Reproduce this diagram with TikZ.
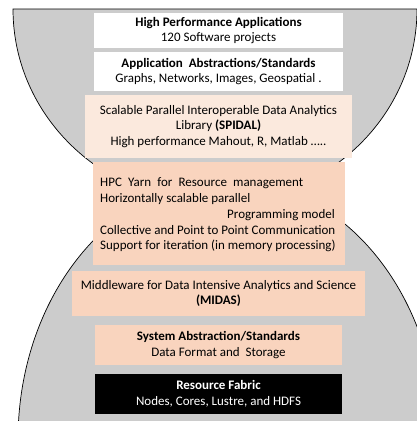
\documentclass[tikz,border=0pt]{standalone}
\usepackage{fontspec}
\setmainfont{Carlito}
\definecolor{bggray}{HTML}{CCCCCC}
\definecolor{peach}{HTML}{F9D4BE}
\definecolor{lightpeach}{HTML}{FBE9DD}
\begin{document}
\begin{tikzpicture}[x=1pt,y=-1pt,
  layer/.style={rectangle, draw=none, inner sep=0pt, align=center,
    font=\fontsize{13}{15.7}\selectfont},
  outline/.style={draw=black, line width=0.7pt, fill=bggray}]
\useasboundingbox (0,0) rectangle (417,421);
% lower dome
\path[outline] (18,440) arc[start angle=180, end angle=0, x radius=210, y radius=-260] -- cycle;
% upper bowl
\path[outline] (13,9) arc[start angle=180, end angle=360, x radius=202, y radius=-194] -- cycle;
% boxes
\node[layer, fill=white, minimum width=249, minimum height=35] (hpa) at (218.5,30.5)
  {\textbf{High Performance Applications}\\120 Software projects};
\node[layer, fill=white, minimum width=249, minimum height=39] (aas) at (218.5,71.5)
  {\textbf{Application\ \ Abstractions/Standards}\\Graphs, Networks, Images, Geospatial .};
\node[layer, fill=lightpeach, minimum width=267, minimum height=63] (spidal) at (218.5,126.5)
  {Scalable Parallel Interoperable Data Analytics\\Library \textbf{(SPIDAL)}\\High performance Mahout, R, Matlab …..};
\node[layer, fill=peach, minimum width=252, minimum height=103] (hpc) at (219,213.5) {};
\node[layer, align=left, anchor=west] (hpctext) at (100,215)
  {\makebox[203pt][s]{HPC Yarn for Resource management}\\
   Horizontally scalable parallel\\
   \hspace*{127pt}Programming model\\
   Collective and Point to Point Communication\\
   Support for iteration (in memory processing)};
\node[layer, fill=peach, minimum width=293, minimum height=45] (midas) at (218.5,293.5)
  {Middleware for Data Intensive Analytics and Science\\\textbf{(MIDAS)}};
\node[layer, fill=peach, minimum width=247, minimum height=40] (sys) at (218.5,345)
  {\textbf{System Abstraction/Standards}\\Data Format and\ \ Storage};
\node[layer, fill=black, text=white, minimum width=247, minimum height=40] (fabric) at (218.5,394)
  {\textbf{Resource Fabric}\\Nodes, Cores, Lustre, and HDFS};
\end{tikzpicture}
\end{document}
